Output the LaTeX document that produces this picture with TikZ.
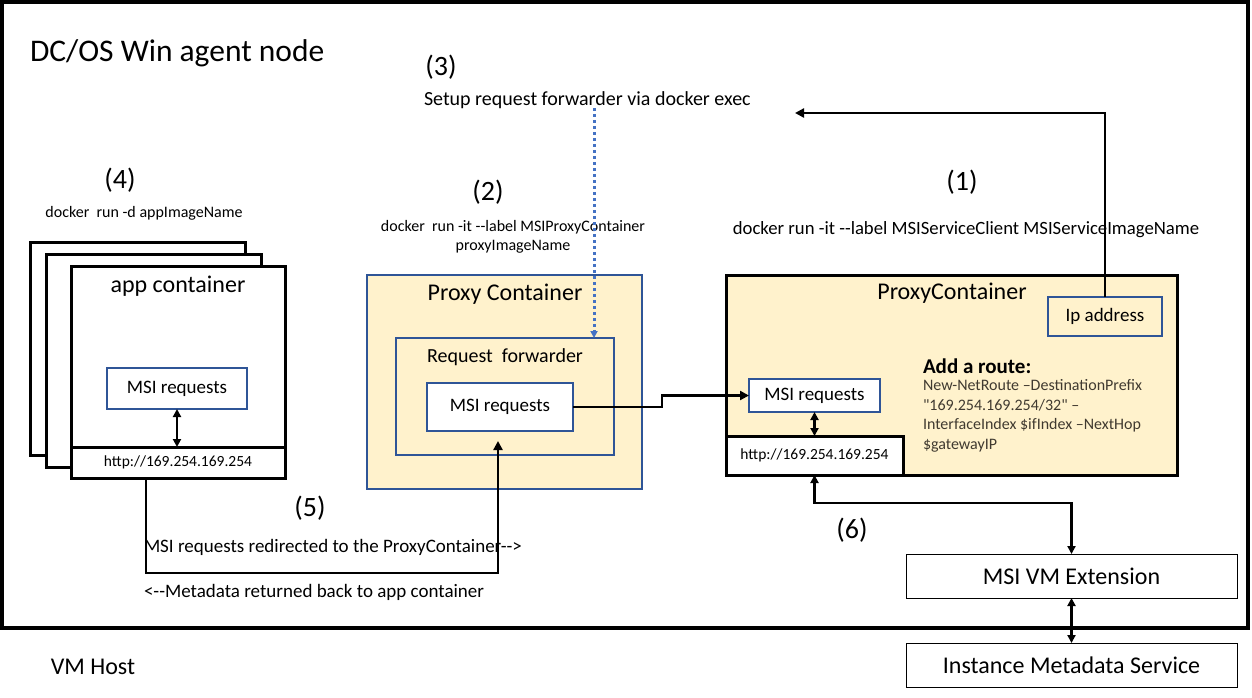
\documentclass[tikz,border=0pt]{standalone}
\usepackage{fontspec}
\setmainfont{Carlito}
\usetikzlibrary{shapes,arrows.meta,positioning}

\definecolor{boxyellow}{HTML}{FFF2CC}
\definecolor{boxblue}{HTML}{2F5597}
\definecolor{dotblue}{HTML}{4472C4}
\definecolor{routegray}{HTML}{403A30}
\newcommand{\pxfont}[1]{\fontsize{#1}{#1}\selectfont}

\begin{document}
\begin{tikzpicture}[x=1pt,y=-1pt,
    txt/.style={inner sep=0pt, outer sep=0pt},
    bluebox/.style={draw=boxblue, line width=1.2pt, inner sep=0pt, outer sep=0pt},
    blackbox/.style={draw, line width=3pt, fill=white, inner sep=0pt, outer sep=0pt},
    thinbox/.style={draw, line width=1pt, fill=white, inner sep=0pt, outer sep=0pt, font=\pxfont{24}},
    arr/.style={line width=2.8pt, -{Triangle[length=9pt,width=9pt]}},
    dblarr/.style={line width=2.8pt, {Triangle[length=8pt,width=8pt]}-{Triangle[length=8pt,width=8pt]}},
    dotarr/.style={dotblue, line width=3pt, dash pattern=on 3pt off 3pt, -{Triangle[length=7pt,width=7pt]}}]
        \useasboundingbox (0,0) rectangle (1252,697);
        % agent node frame
        \node[draw, line width=4pt, inner sep=0pt, minimum width=1246pt, minimum height=626pt] (agentnode) at (625,315) {};
        \node[txt, anchor=west, font=\pxfont{31.5}] (agentlabel) at (30,53) {DC/OS Win agent node};
        \node[txt, font=\pxfont{24}] (vmhost) at (93,667) {VM Host};

        % step labels
        \node[txt, font=\pxfont{28}] (step1) at (962,182) {(1)};
        \node[txt, font=\pxfont{28}] (step2) at (488,192) {(2)};
        \node[txt, font=\pxfont{28}] (step3) at (441,67) {(3)};
        \node[txt, font=\pxfont{28}] (step4) at (120,180) {(4)};
        \node[txt, font=\pxfont{28}] (step5) at (310,508) {(5)};
        \node[txt, font=\pxfont{28}] (step6) at (852,530) {(6)};

        \node[txt, anchor=west, font=\pxfont{20}] (setuplabel) at (424,100) {Setup request forwarder via docker exec};
        \node[txt, font=\pxfont{18.7}] (cmd1) at (966,230) {docker run -it -{}-label MSIServiceClient MSIServiceImageName};
        \node[txt, align=center, font=\fontsize{16}{19}\selectfont] (cmd2) at (513,236.5) {docker\ \ run -it -{}-label MSIProxyContainer\\proxyImageName};
        \node[txt, font=\pxfont{16}] (cmd4) at (144,213) {docker\ \ run -d appImageName};
        \node[txt, anchor=west, font=\pxfont{19}] (redirlabel) at (144,547) {MSI requests redirected to the ProxyContainer-{}->};
        \node[txt, anchor=west, font=\pxfont{19}] (returnlabel) at (144,592) {<-{}-Metadata returned back to app container};

        % app containers
        \node[blackbox, minimum width=215pt, minimum height=213pt] (appback) at (137.5,348.5) {};
        \node[blackbox, minimum width=215pt, minimum height=213pt] (appmid) at (153.5,360.5) {};
        \node[blackbox, minimum width=214pt, minimum height=212pt] (appfront) at (178,372) {};
        \node[txt, font=\pxfont{24}] (applabel) at (178,286) {app container};
        \node[blackbox, minimum width=214pt, minimum height=31pt, font=\pxfont{15.5}] (apphttp) at (178,462.5) {http://169.254.169.254};
        \node[bluebox, fill=white, minimum width=140pt, minimum height=41pt, font=\pxfont{19}] (appmsi) at (177,388.5) {MSI requests};

        % proxy container with forwarder
        \node[bluebox, fill=boxyellow, minimum width=275pt, minimum height=214pt] (proxyleft) at (504.5,382) {};
        \node[txt, font=\pxfont{24}] (proxylabel) at (505,294) {Proxy Container};
        \node[bluebox, minimum width=218pt, minimum height=117pt] (fwdbox) at (505,396.5) {};
        \node[txt, font=\pxfont{20}] (fwdlabel) at (505,357) {Request\ \ forwarder};
        \node[bluebox, fill=white, minimum width=146pt, minimum height=48pt, font=\pxfont{19}] (fwdmsi) at (500,407) {MSI requests};

        % service proxy container
        \node[blackbox, fill=boxyellow, minimum width=451pt, minimum height=200pt] (proxyright) at (951.5,375) {};
        \node[txt, font=\pxfont{24}] (proxyrlabel) at (952,293) {ProxyContainer};
        \node[bluebox, minimum width=114pt, minimum height=39pt, font=\pxfont{19}] (ipaddr) at (1105,316.5) {Ip address};
        \node[bluebox, fill=white, minimum width=131pt, minimum height=33pt, font=\pxfont{19}] (rightmsi) at (814.5,395.5) {MSI requests};
        \node[blackbox, minimum width=177pt, minimum height=39pt, font=\pxfont{15.5}] (righthttp) at (814.5,455.5) {http://169.254.169.254};
        \node[txt, anchor=west, font=\bfseries\pxfont{21}] (routehead) at (923,366) {Add a route:};
        \node[txt, anchor=west, align=left, text=routegray, font=\fontsize{16}{19.5}\selectfont] (routecmd) at (923,416)
            {New-NetRoute \textendash DestinationPrefix\\\textquotedbl169.254.169.254/32\textquotedbl\ \textendash\\InterfaceIndex \$ifIndex \textendash NextHop\\\$gatewayIP};

        % host side
        \node[thinbox, minimum width=331pt, minimum height=44pt] (vmext) at (1071.5,576) {MSI VM Extension};
        \node[thinbox, minimum width=331pt, minimum height=44pt] (imds) at (1071.5,665) {Instance Metadata Service};

        % connectors
        \coordinate (setupend) at (795,113);
        \coordinate (dotstart) at (594,108);
        \draw[arr] (ipaddr.north) |- (setupend);
        \draw[dotarr] (dotstart) -- (dotstart |- fwdbox.north);
        \draw[arr] (fwdmsi.east) -- ++(89,0) |- (rightmsi.west);
        \draw[dblarr] (appmsi.south) -- (appmsi.south |- apphttp.north);
        \draw[arr] ([xshift=-32pt]appfront.south) -- ++(0,95) -| ([xshift=-2pt,yshift=-10pt]fwdmsi.south);
        \draw[dblarr] (rightmsi.south) -- (righthttp.north);
        \draw[dblarr] (vmext.north) -- ++(0,-51) -| (righthttp.south);
        \draw[dblarr] (vmext.south) -- (imds.north);
      \end{tikzpicture}
\end{document}
